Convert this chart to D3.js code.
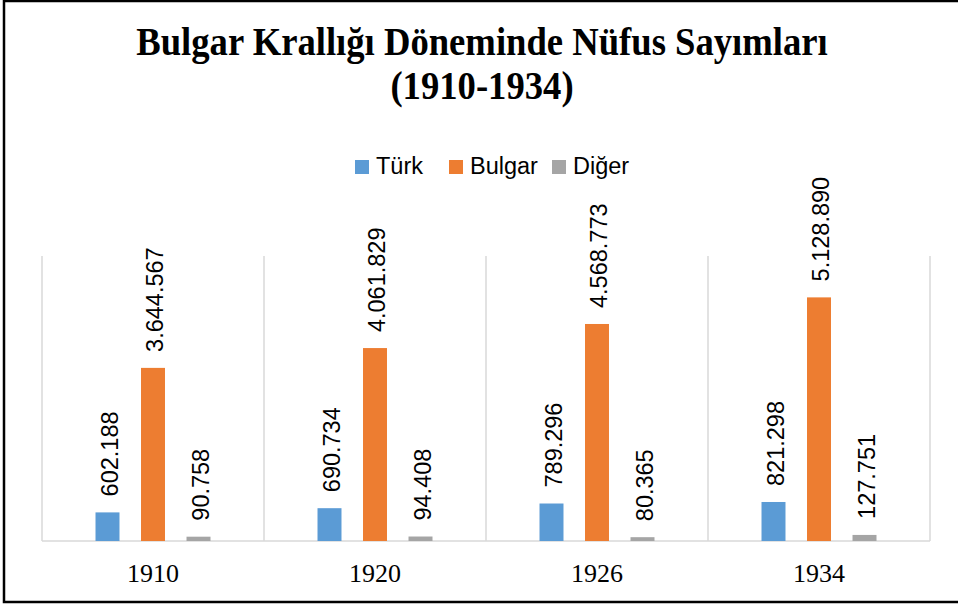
<!DOCTYPE html>
<meta charset="utf-8">
<style>
body { margin: 0; background: #fff; }
.title { font-family: "Liberation Serif", "Times New Roman", serif; font-weight: bold; font-size: 39px; fill: #000; }
.legend text, .label { font-family: "Liberation Sans", Arial, sans-serif; font-size: 23.5px; fill: #000; }
.cat { font-family: "Liberation Serif", "Times New Roman", serif; font-size: 26px; fill: #000; }
.grid { stroke: #d9d9d9; stroke-width: 1.5px; }
</style>
<body>
<script src="https://d3js.org/d3.v7.min.js"></script>
<script>

// data
var years = ["1910", "1920", "1926", "1934"];
var seriesNames = ["Türk", "Bulgar", "Diğer"];
var turk = [602188, 690734, 789296, 821298];
var bulgar = [3644567, 4061829, 4568773, 5128890];
var diger = [90758, 94408, 80365, 127751];
var colors = ["#5b9bd5", "#ed7d31", "#a5a5a5"];
var titleLines = ["Bulgar Krallığı Döneminde Nüfus Sayımları", "(1910-1934)"];

var values = [turk, bulgar, diger];

// sizes
var W = 958, H = 605;
var margin = {top: 256, right: 28, bottom: 64, left: 42},
    width = W - margin.left - margin.right,
    height = H - margin.top - margin.bottom;

var svg = d3.select("body").append("svg")
    .attr("width", W)
    .attr("height", H);

// outer frame (right edge is cut off in the picture)
svg.append("rect")
    .attr("x", 4).attr("y", 1)
    .attr("width", 980).attr("height", 601)
    .attr("fill", "none")
    .attr("stroke", "#000")
    .attr("stroke-width", 2.5);

// title, slightly condensed like the original
svg.selectAll(".title")
    .data(titleLines)
  .enter().append("text")
    .attr("class", "title")
    .attr("transform", function(d, i) { return "translate(482," + (55 + i * 44) + ") scale(0.94,1)"; })
    .attr("text-anchor", "middle")
    .text(function(d) { return d; });

// legend
var legendX = [355, 449, 552];
var legend = svg.append("g").attr("class", "legend")
  .selectAll("g")
    .data(seriesNames)
  .enter().append("g")
    .attr("transform", function(d, i) { return "translate(" + legendX[i] + ",160)"; });

legend.append("rect")
    .attr("width", 14).attr("height", 14)
    .attr("fill", function(d, i) { return colors[i]; });

legend.append("text")
    .attr("x", 21)
    .attr("y", 14)
    .text(function(d) { return d; });

var g = svg.append("g")
    .attr("transform", "translate(" + margin.left + "," + margin.top + ")");

// scales
var x0 = d3.scaleBand().domain(years).range([0, width]).padding(0);
var x1 = d3.scaleBand().domain(seriesNames).range([0, x0.bandwidth()])
    .paddingInner(0.473).paddingOuter(1.176);
var y = d3.scaleLinear().domain([0, 6000000]).range([height, 0]);

var tr = d3.formatLocale({decimal: ",", thousands: ".", grouping: [3], currency: ["", ""]});
var fmt = tr.format(",d");

// category separators
g.selectAll(".vgrid")
    .data(years.concat(["end"]))
  .enter().append("line")
    .attr("class", "grid")
    .attr("x1", function(d, i) { return i * x0.step(); })
    .attr("x2", function(d, i) { return i * x0.step(); })
    .attr("y1", 0)
    .attr("y2", height);

// baseline
g.append("line")
    .attr("class", "grid")
    .attr("x1", 0).attr("x2", width)
    .attr("y1", y(0)).attr("y2", y(0));

// bars
var groups = g.selectAll(".year")
    .data(years)
  .enter().append("g")
    .attr("transform", function(d) { return "translate(" + x0(d) + ",0)"; });

var cells = groups.selectAll(".bar")
    .data(function(d, yi) {
      return seriesNames.map(function(s, si) { return {s: s, si: si, v: values[si][yi]}; });
    })
  .enter();

cells.append("rect")
    .attr("x", function(d) { return x1(d.s); })
    .attr("y", function(d) { return y(d.v); })
    .attr("width", x1.bandwidth())
    .attr("height", function(d) { return y(0) - y(d.v); })
    .attr("fill", function(d) { return colors[d.si]; });

// value labels, rotated
cells.append("text")
    .attr("class", "label")
    .attr("transform", function(d) {
      return "translate(" + (x1(d.s) + x1.bandwidth() / 2 + 2) + "," + (y(d.v) - 16) + ") rotate(-90)";
    })
    .attr("dy", "0.35em")
    .text(function(d) { return fmt(d.v); });

// category labels
g.selectAll(".cat")
    .data(years)
  .enter().append("text")
    .attr("class", "cat")
    .attr("x", function(d) { return x0(d) + x0.bandwidth() / 2; })
    .attr("y", height + 41)
    .attr("text-anchor", "middle")
    .text(function(d) { return d; });

</script>
</body>
